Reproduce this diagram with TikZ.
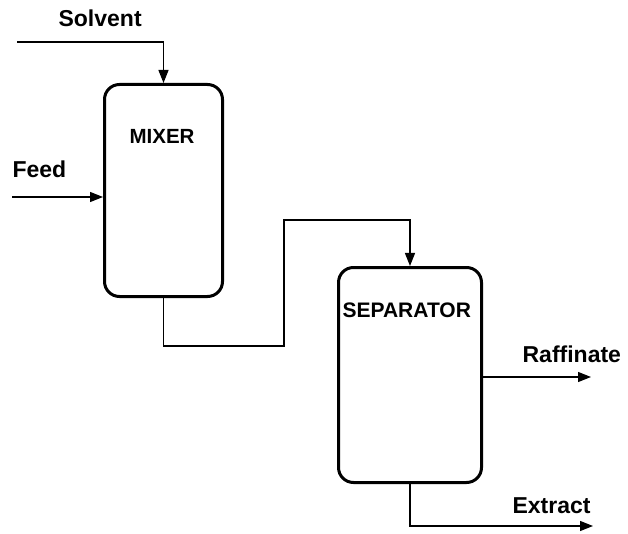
\documentclass[tikz,border=0pt]{standalone}
\usepackage{fontspec}
\setmainfont{Liberation Sans}
\usetikzlibrary{arrows.meta, positioning}

\tikzset{
  vessel/.style={draw, rounded corners=15pt, line width=3pt},
  stream/.style={anchor=base west, inner sep=0pt, font=\fontsize{23}{27}\selectfont\bfseries},
  unit/.style={anchor=base west, inner sep=0pt, font=\fontsize{20.5}{24}\selectfont\bfseries}
}

\begin{document}
\begin{tikzpicture}[x=1pt, y=-1pt, ->, >={Triangle[length=13pt,width=10pt]}, line width=1.2pt]
    \useasboundingbox (0,0) rectangle (628,534);
    % the two vessels
    \node[vessel, minimum width=118pt, minimum height=212pt] (mixer) at (163.5,190.5) {};
    \node[vessel, minimum width=143pt, minimum height=215pt] (separator) at (410,375) {};
    \node[unit] (mixerlabel) at (129,144) {MIXER};
    \node[unit, font=\fontsize{21}{25}\selectfont\bfseries] (separatorlabel) at (342,317) {SEPARATOR};
    % stream names
    \node[stream] (solvent) at (58,27) {Solvent};
    \node[stream] (feed) at (12,178) {Feed};
    \node[stream] (raffinate) at (522,362) {Raffinate};
    \node[stream] (extract) at (512,513) {Extract};
    % free ends of the streams
    \coordinate (solventin) at (17,42);
    \coordinate (feedin) at (12,197);
    \coordinate (raffout) at (591,377);
    \coordinate (extractout) at (593,526);
    \draw (solventin) -| (mixer.north);
    \draw (feedin) -- (feedin -| mixer.west);
    \draw (mixer.south) -- ++(0,48) -| (284,220) -| (separator.north);
    \draw (separator.east |- raffout) -- (raffout);
    \draw (separator.south) |- (extractout);
\end{tikzpicture}
\end{document}
